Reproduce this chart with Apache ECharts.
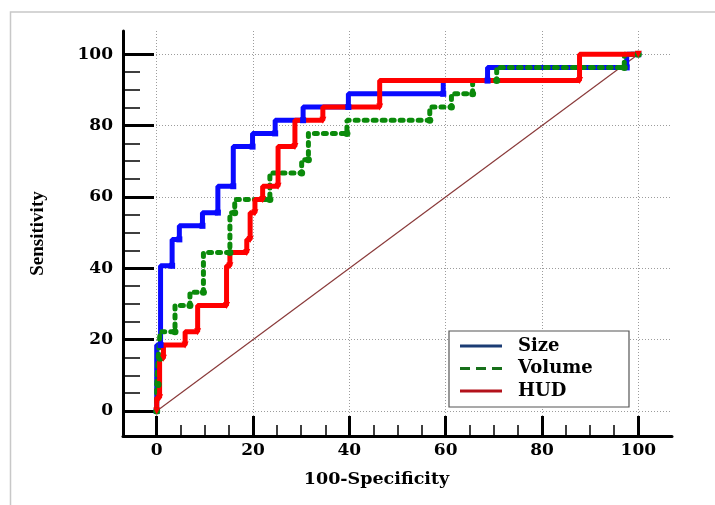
<!DOCTYPE html>
<html><head><meta charset="utf-8">
<script src="https://cdn.jsdelivr.net/npm/echarts@6/dist/echarts.min.js"></script>
<style>html,body{margin:0;padding:0;background:#fff}#c{width:715px;height:505px}</style>
</head><body><div id="c"></div>
<script>
// ---- data (ROC step points: [100-Specificity, Sensitivity]) ----
const seriesNames = ['Size', 'Volume', 'HUD'];
const sizeFpr = [0, 0.8, 3.2, 4.7, 9.5, 12.7, 15.9, 19.9, 24.6, 30.4, 39.8, 59.5, 68.7, 97.6, 100];
const sizeTpr = [0, 18.5, 40.7, 48.1, 51.9, 55.6, 63.0, 74.1, 77.8, 81.5, 85.2, 88.9, 92.6, 96.3, 100];
const volumeFpr = [0, 0.3, 0.7, 3.8, 6.9, 9.7, 15.2, 16.2, 23.5, 30.1, 31.5, 39.5, 56.7, 61.2, 65.6, 70.6, 97.1, 100];
const volumeTpr = [0, 7.4, 14.8, 22.2, 29.6, 33.3, 44.4, 55.6, 59.3, 66.7, 70.4, 77.8, 81.5, 85.2, 88.9, 92.6, 96.3, 100];
const hudFpr = [0, 0.6, 1.4, 5.9, 8.5, 14.5, 15.2, 18.7, 19.4, 20.4, 22, 25.2, 28.7, 34.5, 46.3, 87.8, 100];
const hudTpr = [0, 3.7, 14.8, 18.5, 22.2, 29.6, 40.7, 44.4, 48.1, 55.6, 59.3, 63, 74.1, 81.5, 85.2, 92.6, 100];
const refX = [0, 100];
const refY = [0, 100];
const xAxisMin = -7, xAxisMax = 107;
const yAxisMin = -7, yAxisMax = 106.5;
const tickMin = 0, tickMax = 100, tickStep = 20;
const xAxisTitle = '100-Specificity';
const yAxisTitle = 'Sensitivity';

// ---- layout ----
const W = 715, H = 505;
const G = { left: 123, top: 31, right: 43, bottom: 69 };
const pxX = (W - G.left - G.right) / (xAxisMax - xAxisMin);
const pxY = (H - G.top - G.bottom) / (yAxisMax - yAxisMin);
const inner = {
  left: G.left + (tickMin - xAxisMin) * pxX,
  right: G.right + (xAxisMax - tickMax) * pxX,
  top: G.top + (yAxisMax - tickMax) * pxY,
  bottom: G.bottom + (tickMin - yAxisMin) * pxY
};
const zip = (a, b) => a.map((v, i) => [v, b[i]]);
const labelFont = { fontFamily: 'DejaVu Serif', fontWeight: 'bold', fontSize: 17, color: '#000' };
const grid0Split = { show: true, showMinLine: false, showMaxLine: false, lineStyle: { color: '#9c9c9c', type: [1, 2], width: 1 } };

const chart = echarts.init(document.getElementById('c'), null, { renderer: 'canvas' });
chart.setOption({
  animation: false,
  backgroundColor: '#fff',
  grid: [
    { left: G.left, top: G.top, right: G.right, bottom: G.bottom },
    { left: inner.left, top: inner.top, right: inner.right, bottom: inner.bottom }
  ],
  xAxis: [
    { gridIndex: 0, type: 'value', min: xAxisMin, max: xAxisMax, minInterval: tickStep, maxInterval: tickStep,
      axisLine: { show: true, onZero: false, lineStyle: { color: '#000', width: 3 } },
      axisTick: { show: false }, axisLabel: { show: false }, splitLine: grid0Split,
      name: xAxisTitle, nameLocation: 'middle', nameGap: 34,
      nameTextStyle: Object.assign({}, labelFont, { fontSize: 17.5, padding: [0, 42, 0, 0] }) },
    { gridIndex: 1, type: 'value', min: tickMin, max: tickMax, interval: tickStep,
      offset: inner.bottom - G.bottom,
      axisLine: { show: false, onZero: false },
      axisTick: { show: true, inside: true, length: 20, lineStyle: { color: '#000', width: 3 } },
      minorTick: { show: true, splitNumber: 4, length: 11, lineStyle: { color: '#000', width: 1.5 } },
      axisLabel: Object.assign({ margin: 6 }, labelFont),
      splitLine: { show: false } }
  ],
  yAxis: [
    { gridIndex: 0, type: 'value', min: yAxisMin, max: yAxisMax, minInterval: tickStep, maxInterval: tickStep,
      axisLine: { show: true, onZero: false, lineStyle: { color: '#000', width: 3 } },
      axisTick: { show: false }, axisLabel: { show: false }, splitLine: grid0Split,
      name: yAxisTitle, nameLocation: 'middle', nameRotate: 90, nameGap: 75,
      nameTextStyle: { fontFamily: 'Liberation Serif', fontWeight: 'bold', fontSize: 19, color: '#000' } },
    { gridIndex: 1, type: 'value', min: tickMin, max: tickMax, interval: tickStep,
      offset: inner.left - G.left,
      axisLine: { show: false, onZero: false },
      axisTick: { show: true, inside: true, length: 31, lineStyle: { color: '#000', width: 3 } },
      minorTick: { show: true, splitNumber: 4, length: 17, lineStyle: { color: '#000', width: 1.5 } },
      axisLabel: Object.assign({ margin: 10 }, labelFont),
      splitLine: { show: false } }
  ],
  legend: {
    left: 460, top: 336, orient: 'vertical', selectedMode: false, padding: 0,
    itemWidth: 42, itemHeight: 3, itemGap: 2.5, z: 20,
    textStyle: { fontFamily: 'DejaVu Serif', fontWeight: 'bold', fontSize: 18, lineHeight: 20, color: '#000', padding: [0, 0, 0, 11] },
    data: [
      { name: seriesNames[0], icon: 'rect', itemStyle: { color: '#1b3c74', borderWidth: 0 } },
      { name: seriesNames[1], icon: 'path://M0 0H10V3H0Z M16 0H26V3H16Z M32 0H42V3H32Z', itemStyle: { color: '#17701a', borderWidth: 0 } },
      { name: seriesNames[2], icon: 'rect', itemStyle: { color: '#b3121b', borderWidth: 0 } }
    ]
  },
  graphic: {
    elements: [
      { type: 'rect', z: -1, silent: true, shape: { x: 10.5, y: 12, width: 720, height: 520 },
        style: { fill: 'none', stroke: '#c8c8c8', lineWidth: 1.5 } },
      { type: 'rect', z: 10, silent: true, shape: { x: 449, y: 331, width: 180, height: 76 },
        style: { fill: '#fff', stroke: '#555', lineWidth: 1.2 } }
    ]
  },
  series: [
    { type: 'line', xAxisIndex: 0, yAxisIndex: 0, data: zip(refX, refY), symbol: 'none', silent: true,
      lineStyle: { color: '#8a3a3a', width: 1.2 } },
    { name: seriesNames[0], type: 'line', xAxisIndex: 0, yAxisIndex: 0, step: 'start', data: zip(sizeFpr, sizeTpr),
      symbol: 'rect', symbolSize: 6, itemStyle: { color: '#0a0aff' },
      lineStyle: { color: '#0a0aff', width: 5 } },
    { name: seriesNames[1], type: 'line', xAxisIndex: 0, yAxisIndex: 0, step: 'start', data: zip(volumeFpr, volumeTpr),
      symbol: 'circle', symbolSize: 7, itemStyle: { color: '#0b8a0b' },
      lineStyle: { color: '#0b8a0b', width: 5, type: [3, 6], cap: 'round' } },
    { name: seriesNames[2], type: 'line', xAxisIndex: 0, yAxisIndex: 0, step: 'start', data: zip(hudFpr, hudTpr),
      symbol: 'triangle', symbolRotate: 180, symbolSize: 7, itemStyle: { color: '#ff0000' },
      lineStyle: { color: '#ff0000', width: 5 } }
  ]
});
</script></body></html>
